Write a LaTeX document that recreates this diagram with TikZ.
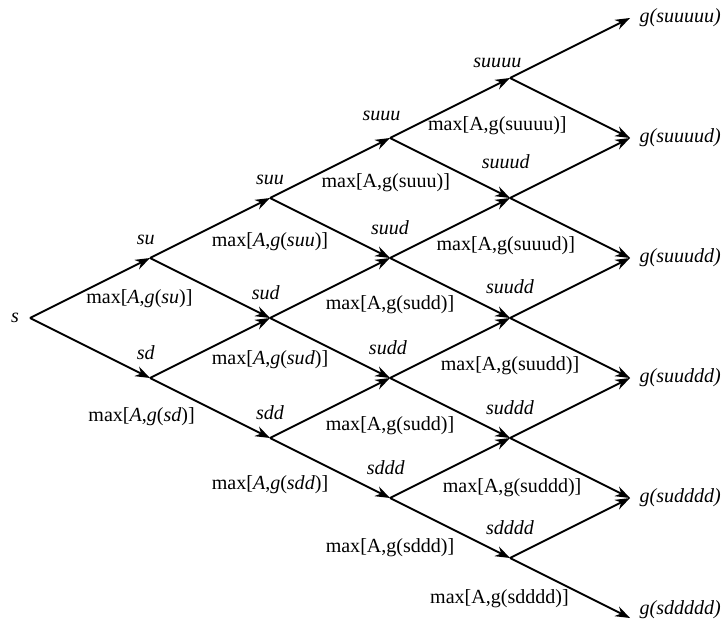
\documentclass[tikz,border=0pt]{standalone}
\usepackage{fontspec}
\setmainfont{Liberation Serif}
\usepackage{tikz}
\usetikzlibrary{positioning, arrows.meta}

\begin{document}
\begin{tikzpicture}[
	every node/.style={font=\fontsize{9.5}{11}\selectfont},
	tip/.style={line width=0.9pt, -{Stealth[length=7pt,width=5pt]}},
	statelbl/.style={anchor=center, font=\fontsize{9.5}{11}\selectfont\itshape},
	maxlbl/.style={anchor=center},
	endlbl/.style={font=\fontsize{9.5}{11}\selectfont\itshape}]
	\useasboundingbox (-0.5,-5.017) rectangle (11.533,5.3);

	% lattice points
	\coordinate (s) at (0,0);
	\coordinate (su) at (2,1);
	\coordinate (sd) at (2,-1);
	\coordinate (suu) at (4,2);
	\coordinate (sud) at (4,0);
	\coordinate (sdd) at (4,-2);
	\coordinate (suuu) at (6,3);
	\coordinate (suud) at (6,1);
	\coordinate (sudd) at (6,-1);
	\coordinate (sddd) at (6,-3);
	\coordinate (suuuu) at (8,4);
	\coordinate (suuud) at (8,2);
	\coordinate (suudd) at (8,0);
	\coordinate (suddd) at (8,-2);
	\coordinate (sdddd) at (8,-4);
	\coordinate (suuuuu) at (10,5);
	\coordinate (suuuud) at (10,3);
	\coordinate (suuudd) at (10,1);
	\coordinate (suuddd) at (10,-1);
	\coordinate (sudddd) at (10,-3);
	\coordinate (sddddd) at (10,-5);

	\path (s) edge[tip] (su) edge[tip] (sd);
	\path (su) edge[tip] (suu) edge[tip] (sud);
	\path (sd) edge[tip] (sud) edge[tip] (sdd);
	\path (suu) edge[tip] (suuu) edge[tip] (suud);
	\path (sud) edge[tip] (suud) edge[tip] (sudd);
	\path (sdd) edge[tip] (sudd) edge[tip] (sddd);
	\path (suuu) edge[tip] (suuuu) edge[tip] (suuud);
	\path (suud) edge[tip] (suuud) edge[tip] (suudd);
	\path (sudd) edge[tip] (suudd) edge[tip] (suddd);
	\path (sddd) edge[tip] (suddd) edge[tip] (sdddd);
	\path (suuuu) edge[tip] (suuuuu) edge[tip] (suuuud);
	\path (suuud) edge[tip] (suuuud) edge[tip] (suuudd);
	\path (suudd) edge[tip] (suuudd) edge[tip] (suuddd);
	\path (suddd) edge[tip] (suuddd) edge[tip] (sudddd);
	\path (sdddd) edge[tip] (sudddd) edge[tip] (sddddd);

	% state names
	\node[left=0.25cm of s, statelbl] (s-l) {s};
	\node[above=0.3cm of su, xshift=-2pt, statelbl] (su-l) {su};
	\node[above=0.42cm of sd, xshift=-2pt, statelbl] (sd-l) {sd};
	\node[above=0.3cm of suu, statelbl] (suu-l) {suu};
	\node[above=0.43cm of sud, xshift=-2pt, statelbl] (sud-l) {sud};
	\node[above=0.43cm of sdd, statelbl] (sdd-l) {sdd};
	\node[above=0.37cm of suuu, xshift=-4pt, statelbl] (suuu-l) {suuu};
	\node[above=0.5cm of suud, statelbl] (suud-l) {suud};
	\node[above=0.5cm of sudd, xshift=-1pt, statelbl] (sudd-l) {sudd};
	\node[above=0.5cm of sddd, xshift=-2pt, statelbl] (sddd-l) {sddd};
	\node[above=0.26cm of suuuu, xshift=-6pt, statelbl] (suuuu-l) {suuuu};
	\node[above=0.6cm of suuud, xshift=-2pt, statelbl] (suuud-l) {suuud};
	\node[above=0.53cm of suudd, statelbl] (suudd-l) {suudd};
	\node[above=0.5cm of suddd, statelbl] (suddd-l) {suddd};
	\node[above=0.5cm of sdddd, statelbl] (sdddd-l) {sdddd};

	% values
	\node[below=0.68cm of su, xshift=-5pt, maxlbl] (su-v) {max[\textit{A},\textit{g}(\textit{su})]};
	\node[below=0.65cm of sd, xshift=-4pt, maxlbl] (sd-v) {max[\textit{A},\textit{g}(\textit{sd})]};
	\node[below=0.72cm of suu, maxlbl] (suu-v) {max[\textit{A},\textit{g}(\textit{suu})]};
	\node[below=0.7cm of sud, maxlbl] (sud-v) {max[\textit{A},\textit{g}(\textit{sud})]};
	\node[below=0.78cm of sdd, maxlbl] (sdd-v) {max[\textit{A},\textit{g}(\textit{sdd})]};
	\node[below=0.75cm of suuu, xshift=-2pt, maxlbl] (suuu-v) {max[A,g(suuu)]};
	\node[below=0.77cm of suud, maxlbl] (suud-v) {max[A,g(sudd)]};
	\node[below=0.8cm of sudd, maxlbl] (sudd-v) {max[A,g(sudd)]};
	\node[below=0.82cm of sddd, maxlbl] (sddd-v) {max[A,g(sddd)]};
	\node[below=0.8cm of suuuu, xshift=-6pt, maxlbl] (suuuu-v) {max[A,g(suuuu)]};
	\node[below=0.8cm of suuud, xshift=-2pt, maxlbl] (suuud-v) {max[A,g(suuud)]};
	\node[below=0.8cm of suudd, maxlbl] (suudd-v) {max[A,g(suudd)]};
	\node[below=0.83cm of suddd, xshift=1pt, maxlbl] (suddd-v) {max[A,g(suddd)]};
	\node[below=0.67cm of sdddd, xshift=-5pt, maxlbl] (sdddd-v) {max[A,g(sdddd)]};

	% payoffs at expiry
	\node[right=1pt of suuuuu, endlbl] (suuuuu-l) {g(suuuuu)};
	\node[right=1pt of suuuud, endlbl] (suuuud-l) {g(suuuud)};
	\node[right=1pt of suuudd, endlbl] (suuudd-l) {g(suuudd)};
	\node[right=1pt of suuddd, endlbl] (suuddd-l) {g(suuddd)};
	\node[right=1pt of sudddd, endlbl] (sudddd-l) {g(sudddd)};
	\node[right=1pt of sddddd, yshift=4pt, endlbl] (sddddd-l) {g(sddddd)};
\end{tikzpicture}
\end{document}
